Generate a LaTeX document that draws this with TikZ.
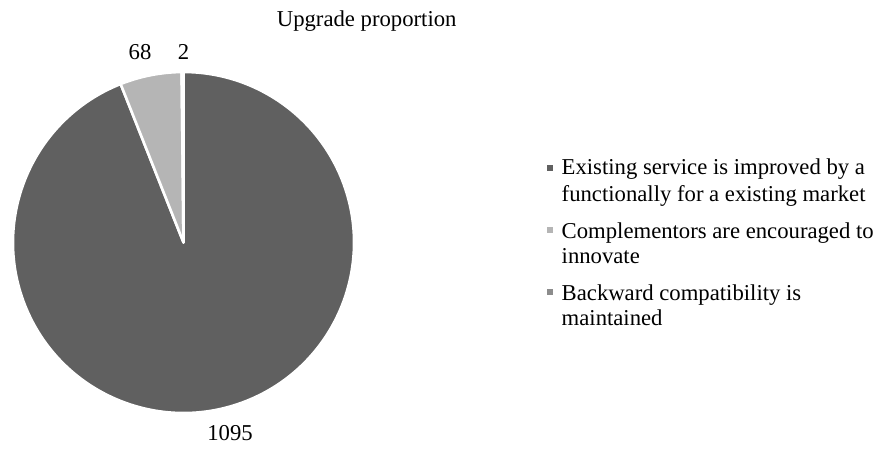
\documentclass[tikz,border=0pt]{standalone}
\usepackage{fontspec}
\setmainfont{Liberation Serif}
\definecolor{slicedark}{HTML}{606060}
\definecolor{slicelight}{HTML}{B5B5B5}
\definecolor{slicemid}{HTML}{8C8C8C}
\tikzset{
  slice/.style={draw=white, line width=2.6pt, line join=round},
  lbl/.style={inner sep=0pt, anchor=base, font=\fontsize{22.7}{25}\selectfont},
  legtext/.style={inner sep=0pt, anchor=base west, font=\fontsize{22.7}{25}\selectfont},
  legkey/.style={inner sep=0pt, minimum size=6.5pt, draw=none}
}
\begin{document}
\begin{tikzpicture}[x=1pt,y=1pt]
\useasboundingbox (0,0) rectangle (878,448);
\coordinate (c) at (183.5,205.5);
% pie slices: 1095, 68, 2 of 1165, clockwise from the top
\filldraw[slice, fill=slicedark] (c) -- ++(111.63:170.5) arc[start angle=111.63, end angle=450, radius=170.5] -- cycle;
\filldraw[slice, fill=slicelight] (c) -- ++(90.62:170.5) arc[start angle=90.62, end angle=111.63, radius=170.5] -- cycle;
\filldraw[slice, fill=slicemid] (c) -- ++(90:170.5) arc[start angle=90, end angle=90.62, radius=170.5] -- cycle;
% title and data labels
\node[lbl] (title) at (366.7,421) {Upgrade proportion};
\node[lbl] (v68) at (140,388.5) {68};
\node[lbl] (v2) at (183.5,388.5) {2};
\node[lbl] (v1095) at (230,8) {1095};
% legend
\node[legkey, fill=slicedark] (k1) at (550,280) {};
\node[legtext] (t1a) at (561.5,273) {Existing service is improved by a};
\node[legtext] (t1b) at (561.5,246.5) {functionally for a existing market};
\node[legkey, fill=slicelight] (k2) at (550,218) {};
\node[legtext] (t2a) at (561.5,209.5) {Complementors are encouraged to};
\node[legtext] (t2b) at (561.5,184.5) {innovate};
\node[legkey, fill=slicemid] (k3) at (550,156) {};
\node[legtext] (t3a) at (561.5,148) {Backward compatibility is};
\node[legtext] (t3b) at (561.5,123) {maintained};
\end{tikzpicture}
\end{document}
